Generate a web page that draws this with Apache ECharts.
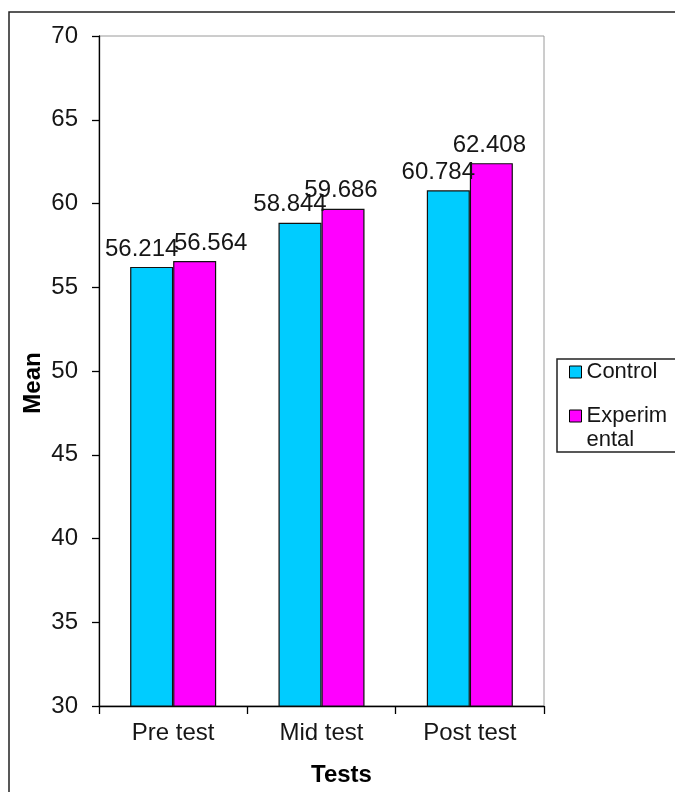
<!DOCTYPE html>
<html>
<head>
<meta charset="utf-8">
<script src="https://cdn.jsdelivr.net/npm/echarts@6/dist/echarts.min.js"></script>
<style>
  html, body { margin: 0; padding: 0; background: #fff; }
  #chart { width: 675px; height: 792px; }
</style>
</head>
<body>
<div id="chart"></div>
<script>
// Mean scores per test phase for both groups
const categories = ['Pre test', 'Mid test', 'Post test'];
const controlMeans = [56.214, 58.844, 60.784];
const experimentalMeans = [56.564, 59.686, 62.408];
const seriesNames = ['Control', 'Experimental'];

const FONT = '"Liberation Sans", Arial, sans-serif';
const INK = '#161616';

const chart = echarts.init(document.getElementById('chart'), null, { renderer: 'canvas' });

const labelBase = {
  show: true,
  position: 'top',
  distance: 6,
  fontFamily: FONT,
  fontSize: 24,
  color: INK,
  formatter: p => p.value.toFixed(3)
};

chart.setOption({
  backgroundColor: '#fff',
  animation: false,
  graphic: [{
    type: 'rect',
    shape: { x: 9, y: 12, width: 720, height: 820 },
    style: { fill: 'none', stroke: '#222', lineWidth: 1.5 },
    silent: true,
    z: 0
  }],
  grid: {
    left: 99, top: 36, right: 131, bottom: 82,
    show: true,
    backgroundColor: '#fff',
    borderColor: '#9a9a9a',
    borderWidth: 1
  },
  legend: {
    orient: 'vertical',
    left: 557,
    top: 359,
    padding: [1, 24, 0, 12],
    itemWidth: 12,
    itemHeight: 12,
    itemGap: -4,
    borderColor: '#222',
    borderWidth: 1.5,
    backgroundColor: '#fff',
    icon: 'rect',
    itemStyle: { borderColor: '#000', borderWidth: 1 },
    // a blank first line keeps the marker level with the first text line
    formatter: name => name === seriesNames[1] ? '\n' + name : name,
    textStyle: {
      fontFamily: FONT,
      fontSize: 22,
      lineHeight: 24,
      color: INK,
      width: 86,
      overflow: 'breakAll'
    },
    data: seriesNames
  },
  xAxis: {
    type: 'category',
    data: categories,
    boundaryGap: true,
    name: 'Tests',
    nameLocation: 'middle',
    nameGap: 57,
    nameMoveOverlap: false,
    nameTextStyle: {
      fontFamily: FONT, fontSize: 24, fontWeight: 'bold', color: '#000',
      padding: [0, 0, 0, 40]
    },
    axisLine: { show: true, lineStyle: { color: '#000', width: 1.3 } },
    axisTick: { show: true, alignWithLabel: false, length: 8, lineStyle: { color: '#000', width: 1.3 } },
    axisLabel: { margin: 15, fontFamily: FONT, fontSize: 24, color: INK },
    splitLine: { show: false }
  },
  yAxis: {
    type: 'value',
    min: 30,
    max: 70,
    interval: 5,
    name: 'Mean',
    nameLocation: 'middle',
    nameGap: 54,
    nameRotate: 90,
    nameMoveOverlap: false,
    nameTextStyle: {
      fontFamily: FONT, fontSize: 24, fontWeight: 'bold', color: '#000',
      padding: [0, 24, 0, 0]
    },
    axisLine: { show: true, lineStyle: { color: '#000', width: 1.3 } },
    axisTick: { show: true, length: 7, lineStyle: { color: '#000', width: 1.3 } },
    axisLabel: { margin: 21, fontFamily: FONT, fontSize: 24, color: INK },
    splitLine: { show: false }
  },
  series: [
    {
      name: seriesNames[0],
      type: 'bar',
      data: controlMeans,
      barGap: '0%',
      barCategoryGap: '42%',
      itemStyle: { color: '#00CCFF', borderColor: '#111', borderWidth: 1.2 },
      label: Object.assign({}, labelBase, { offset: [-10, 0] })
    },
    {
      name: seriesNames[1],
      type: 'bar',
      // the first label sits to the right so it stays clear of its neighbour
      data: experimentalMeans.map((v, i) => i === 0 ? { value: v, label: { offset: [16, 0] } } : v),
      itemStyle: { color: '#FF00FF', borderColor: '#111', borderWidth: 1.2 },
      label: Object.assign({}, labelBase, { offset: [-2, 0] })
    }
  ]
});
</script>
</body>
</html>
